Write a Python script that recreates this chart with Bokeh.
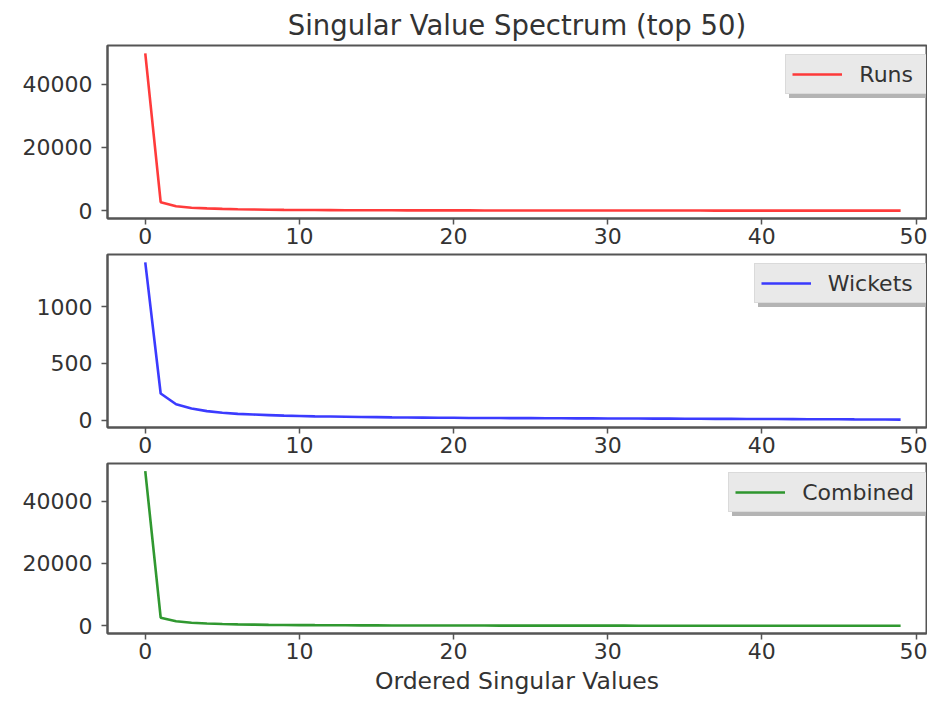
from bokeh.plotting import figure
from bokeh.layouts import column
from bokeh.models import Range1d, FixedTicker, ColumnDataSource, Legend, LegendItem
from bokeh.embed import file_html
from bokeh.resources import INLINE

# ---- data ----
index = list(range(50))
runs_sv = [49700, 2700, 1400, 950, 720, 560, 450, 370, 310, 265,
           230, 200, 178, 160, 145, 132, 121, 111, 103, 96,
           89, 83, 78, 73, 69, 65, 61, 58, 55, 52,
           49, 47, 44, 42, 40, 38, 36, 34, 32, 31,
           29, 28, 26, 25, 23, 22, 20, 19, 17, 15]
wickets_sv = [1390, 235, 140, 103, 80, 65, 56, 50, 45, 40,
              37, 34, 32, 30, 28, 27, 25, 24, 23, 22,
              21, 20, 19.5, 19, 18.5, 18, 17.5, 17, 16.5, 16,
              15.5, 15, 14.5, 14, 13.5, 13, 12.5, 12, 11.5, 11,
              10.5, 10, 9.5, 9, 8.5, 8, 7, 6.5, 6, 5]
combined_sv = [49600, 2600, 1450, 980, 740, 580, 470, 385, 320, 275,
               238, 208, 185, 166, 150, 137, 125, 115, 107, 99,
               92, 86, 80, 75, 71, 67, 63, 60, 57, 54,
               51, 48, 46, 43, 41, 39, 37, 35, 33, 32,
               30, 28, 27, 25, 24, 22, 21, 19, 18, 16]
x_ticks = [0, 10, 20, 30, 40, 50]
runs_ticks = [0, 20000, 40000]
wickets_ticks = [0, 500, 1000]
combined_ticks = [0, 20000, 40000]

title_text = "Singular Value Spectrum (top 50)"
x_label = "Ordered Singular Values"

FONT = "DejaVu Sans"
TXT = "#333333"
FRAME = "#555555"
WIDTH = 927
LEFT = 107
RIGHT = 1

# DejaVu Sans advance widths (em) for legend width estimation
_EM = {"R": .695, "u": .634, "n": .634, "s": .521, "W": .989, "i": .278,
       "c": .550, "k": .579, "e": .615, "t": .392, "C": .698, "o": .612,
       "m": .974, "b": .635, "d": .635}
LEG_FONT = 22
LEG_PAD = 6
LEG_GLYPH = 50
LEG_STANDOFF = 17
LEG_ROW = 26
LEG_H = 2 * LEG_PAD + LEG_ROW

source = ColumnDataSource(dict(idx=index, runs=runs_sv, wickets=wickets_sv,
                               combined=combined_sv))


def padded(vals):
    lo, hi = min(vals), max(vals)
    m = 0.05 * (hi - lo)
    return Range1d(lo - m, hi + m)


def style_legend(lg, label_w, shadow=False):
    lg.padding = LEG_PAD
    lg.glyph_width = LEG_GLYPH
    lg.glyph_height = 22
    lg.label_standoff = LEG_STANDOFF
    lg.label_width = int(round(label_w))
    lg.label_height = LEG_ROW
    lg.label_text_font = FONT
    lg.label_text_color = TXT
    lg.background_fill_alpha = 1.0
    lg.margin = 0
    if shadow:
        lg.label_text_font_size = "1px"
        lg.background_fill_color = "#b4b4b4"
        lg.border_line_color = None
        lg.label_text_alpha = 0
    else:
        lg.label_text_font_size = f"{LEG_FONT}px"
        lg.background_fill_color = "#e9e9e9"
        lg.border_line_color = "#cccccc"
        lg.border_line_width = 1


def make(col, vals, yticks, color, label, height, top, bottom, title=None, xlabel=None):
    p = figure(width=WIDTH, height=height, output_backend="svg", toolbar_location=None,
               x_range=Range1d(-2.45, 50.68), y_range=padded(vals),
               min_border_left=LEFT, min_border_right=RIGHT,
               min_border_top=top, min_border_bottom=bottom,
               title=title)
    r = p.line(x="idx", y=col, source=source, line_color=color, line_width=2.6,
               line_alpha=0.88)
    p.grid.visible = False
    p.background_fill_color = "white"
    p.border_fill_color = "white"
    p.outline_line_color = FRAME
    p.outline_line_width = 2
    for ax in (p.xaxis[0], p.yaxis[0]):
        ax.axis_line_color = FRAME
        ax.axis_line_width = 2
        ax.major_tick_line_color = FRAME
        ax.major_tick_line_width = 1.5
        ax.major_tick_out = 6
        ax.major_tick_in = 0
        ax.minor_tick_out = 0
        ax.minor_tick_in = 0
        ax.major_label_text_font = FONT
        ax.major_label_text_font_size = "22px"
        ax.major_label_text_color = TXT
    p.xaxis.ticker = FixedTicker(ticks=x_ticks)
    p.yaxis.ticker = FixedTicker(ticks=yticks)
    p.xaxis.major_label_standoff = 3
    p.yaxis.major_label_standoff = 9
    if xlabel:
        p.xaxis.axis_label = xlabel
        p.xaxis.axis_label_text_font = FONT
        p.xaxis.axis_label_text_font_size = "23.5px"
        p.xaxis.axis_label_text_font_style = "normal"
        p.xaxis.axis_label_text_color = TXT
        p.xaxis.axis_label_standoff = 5
    if title:
        p.title.align = "center"
        p.title.text_font = FONT
        p.title.text_font_size = "27.5px"
        p.title.text_font_style = "normal"
        p.title.text_color = TXT

    # legend at the top right of the frame, with a drop shadow behind it
    frame_w = WIDTH - LEFT - RIGHT
    frame_h = height - top - bottom
    text_w = sum(_EM.get(ch, 0.6) for ch in label) * LEG_FONT
    label_w = text_w + 15
    leg_w = LEG_GLYPH + LEG_STANDOFF + label_w
    lx = frame_w - leg_w - 4
    ly = frame_h - LEG_H - 11
    shadow = Legend(items=[LegendItem(label=" ", renderers=[r])],
                    location=(lx + 4, ly - 4))
    style_legend(shadow, label_w, shadow=True)
    main = Legend(items=[LegendItem(label=label, renderers=[r])], location=(lx, ly))
    style_legend(main, label_w)
    p.add_layout(shadow)
    p.add_layout(main)
    return p


p1 = make("runs", runs_sv, runs_ticks, "#ff2020", "Runs", 253, 45, 35, title=title_text)
p2 = make("wickets", wickets_sv, wickets_ticks, "#2020ff", "Wickets", 209, 1, 35)
p3 = make("combined", combined_sv, combined_ticks, "#138a13", "Combined", 239, 1, 68,
          xlabel=x_label)

layout = column(p1, p2, p3, spacing=0)
open("out.html", "w").write(file_html(layout, INLINE))
